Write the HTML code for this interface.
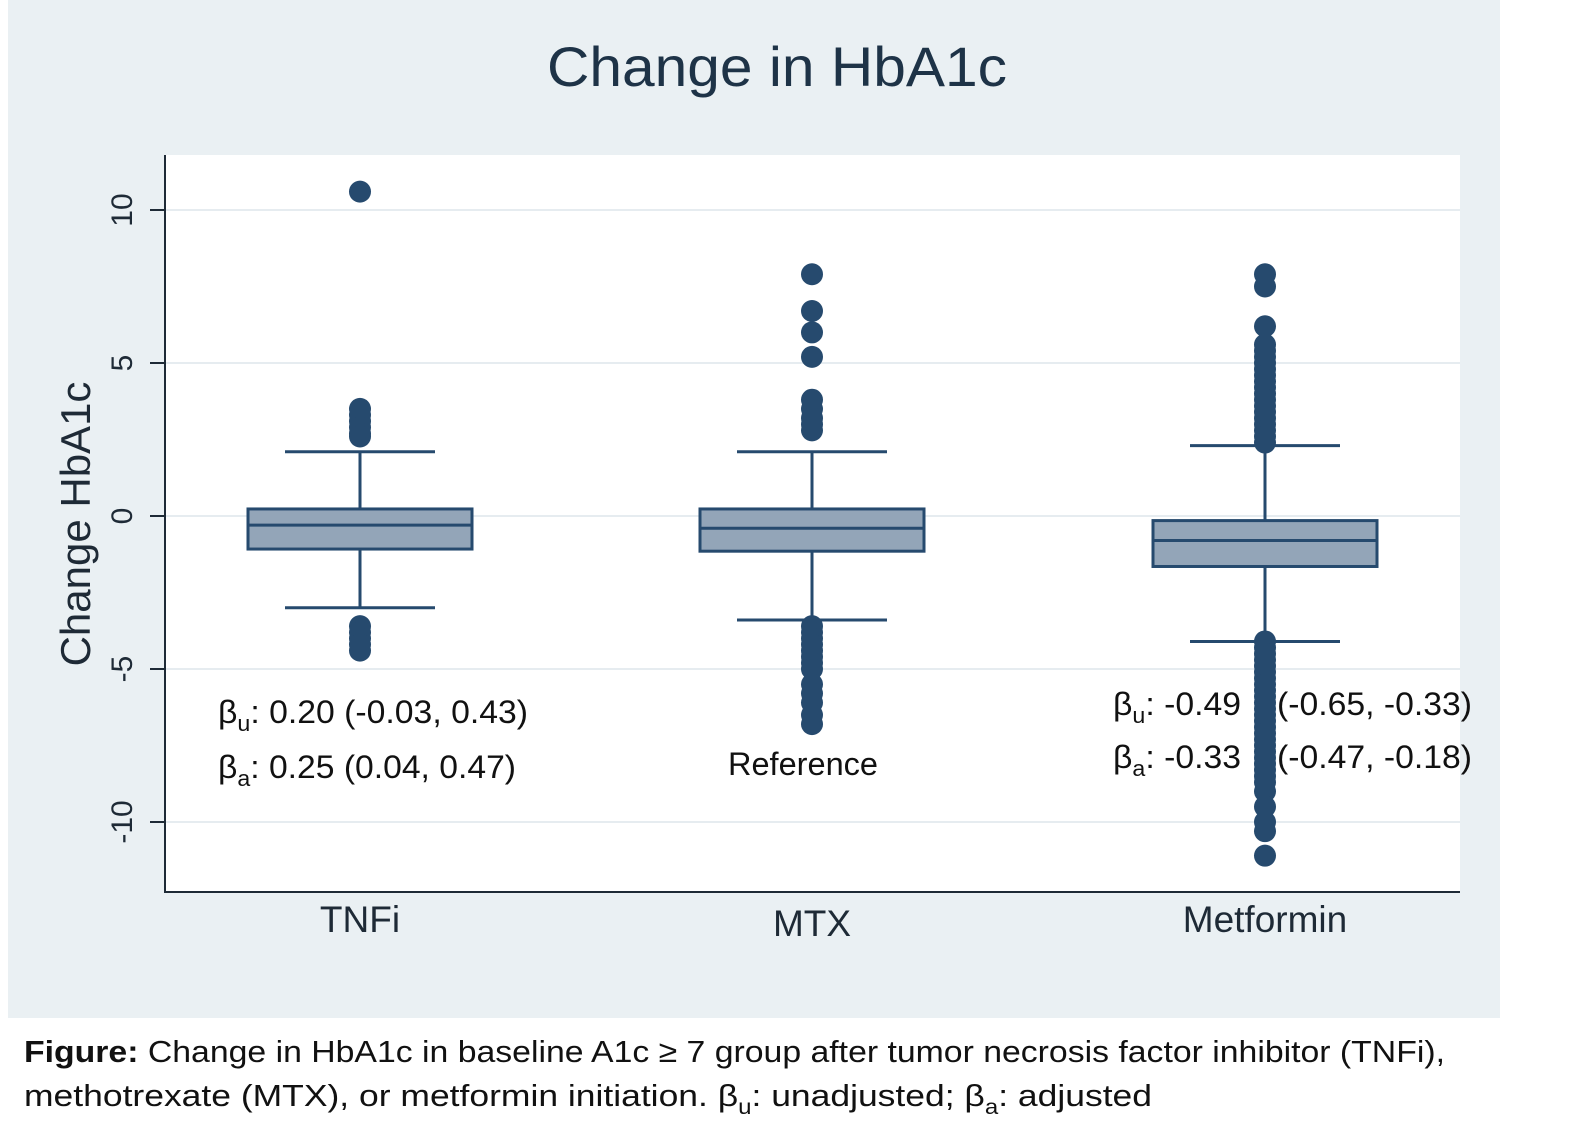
<!DOCTYPE html>
<html><head><meta charset="utf-8">
<style>
html,body{margin:0;padding:0;background:#fff;}
body{width:1575px;height:1145px;position:relative;overflow:hidden;font-family:"Liberation Sans",sans-serif;}
svg{position:absolute;left:0;top:0;}
</style></head>
<body>
<svg id="chart" width="1575" height="1145" xmlns="http://www.w3.org/2000/svg">
<rect x="8" y="0" width="1492" height="1018" fill="#eaf0f3"/>
<rect x="165" y="155" width="1295" height="737" fill="#ffffff"/>
<g id="grid"></g>
<g id="marks"></g>
<line x1="165" y1="155" x2="165" y2="893" stroke="#1e2a36" stroke-width="2"/>
<line x1="164" y1="892" x2="1460" y2="892" stroke="#1e2a36" stroke-width="2"/>
<g id="ticks"></g>
<text x="547" y="86" textLength="460" lengthAdjust="spacingAndGlyphs" font-size="56" fill="#1e3347">Change in HbA1c</text>
<text transform="translate(90,524) rotate(-90)" text-anchor="middle" font-size="42" fill="#1e2a36">Change HbA1c</text>
<g font-size="32" fill="#111">
<text x="218" y="723" textLength="310" lengthAdjust="spacingAndGlyphs">β<tspan font-size="22" dy="8">u</tspan><tspan dy="-8">: 0.20 (-0.03, 0.43)</tspan></text>
<text x="218" y="778" textLength="298" lengthAdjust="spacingAndGlyphs">β<tspan font-size="22" dy="8">a</tspan><tspan dy="-8">: 0.25 (0.04, 0.47)</tspan></text>
</g>
<text x="728" y="775" textLength="150" lengthAdjust="spacingAndGlyphs" font-size="32" fill="#111">Reference</text>
<g font-size="32" fill="#111">
<text x="1113" y="715" textLength="128" lengthAdjust="spacingAndGlyphs">β<tspan font-size="22" dy="8">u</tspan><tspan dy="-8">: -0.49</tspan></text>
<text x="1113" y="768" textLength="128" lengthAdjust="spacingAndGlyphs">β<tspan font-size="22" dy="8">a</tspan><tspan dy="-8">: -0.33</tspan></text>
<text x="1277" y="715" textLength="195" lengthAdjust="spacingAndGlyphs">(-0.65, -0.33)</text>
<text x="1277" y="768" textLength="195" lengthAdjust="spacingAndGlyphs">(-0.47, -0.18)</text>
</g>
<g font-size="31" fill="#111">
<text x="24" y="1062" textLength="1421" lengthAdjust="spacingAndGlyphs"><tspan font-weight="bold">Figure:</tspan> Change in HbA1c in baseline A1c ≥ 7 group after tumor necrosis factor inhibitor (TNFi),</text>
<text x="24" y="1106" textLength="1128" lengthAdjust="spacingAndGlyphs">methotrexate (MTX), or metformin initiation. β<tspan font-size="21" dy="8">u</tspan><tspan dy="-8">:  unadjusted; β</tspan><tspan font-size="21" dy="8">a</tspan><tspan dy="-8">:  adjusted</tspan></text>
</g>
</svg>
<script>
const categories = ["TNFi", "MTX", "Metformin"];
const q1Values = [-1.08, -1.15, -1.65];
const medianValues = [-0.3, -0.4, -0.8];
const q3Values = [0.23, 0.23, -0.15];
const lowerWhisker = [-3.0, -3.4, -4.1];
const upperWhisker = [2.1, 2.1, 2.3];
const tnfiOutliers = [10.6, 3.5, 3.3, 3.1, 2.9, 2.7, 2.6, -3.6, -3.8, -4.0, -4.2, -4.4];
const mtxOutliers = [7.9, 6.7, 6.0, 5.2, 3.8, 3.5, 3.2, 3.0, 2.8, -3.6, -3.8, -4.0, -4.2, -4.4, -4.6, -4.8, -5.0, -5.5, -5.8, -6.1, -6.5, -6.8];
const metforminOutliers = [7.9, 7.5, 6.2, 5.6, 5.4, 5.2, 5.0, 4.8, 4.6, 4.4, 4.2, 4.0, 3.8, 3.6, 3.4, 3.2, 3.0, 2.8, 2.6, 2.4,
  -4.1, -4.3, -4.5, -4.7, -4.9, -5.1, -5.3, -5.5, -5.7, -5.9, -6.1, -6.3, -6.5, -6.7, -6.9, -7.1, -7.3, -7.5, -7.7, -7.9, -8.1, -8.3, -8.5, -8.7, -9.0, -9.5, -10.0, -10.3, -11.1];
const outliers = [tnfiOutliers, mtxOutliers, metforminOutliers];
const yTicks = [10, 5, 0, -5, -10];
const yTickLabels = ["10", "5", "0", "-5", "-10"];

const NS = "http://www.w3.org/2000/svg";
function yScale(v){ return 516 - v * 30.6; }
function xScale(i){ return [360, 812, 1265][i]; }
function mk(tag, attrs, parent){
  const e = document.createElementNS(NS, tag);
  for (const k in attrs) e.setAttribute(k, attrs[k]);
  parent.appendChild(e);
  return e;
}
const grid = document.getElementById('grid');
const ticks = document.getElementById('ticks');
const marks = document.getElementById('marks');
const col = "#264a6e";

yTicks.forEach((t, i) => {
  const y = yScale(t);
  const g = mk('line', {x1:166, x2:1460, y1:y, y2:y, stroke:'#e6ecf0', 'stroke-width':2}, grid);
  
  
  const tk = mk('line', {x1:150, x2:165, y1:y, y2:y, stroke:'#1e2a36', 'stroke-width':2}, ticks);
  
  
  const lb = mk('text', {transform:`translate(132,${y}) rotate(-90)`, 'text-anchor':'middle', 'font-size':30, fill:'#1e2a36'}, ticks);
  lb.textContent = yTickLabels[i];
  
  
});

categories.forEach((c, i) => {
  const cx = xScale(i);
  const g = mk('g', {}, marks);
  
  
  mk('line', {x1:cx, x2:cx, y1:yScale(upperWhisker[i]), y2:yScale(q3Values[i]), stroke:col, 'stroke-width':3}, g);
  mk('line', {x1:cx, x2:cx, y1:yScale(q1Values[i]), y2:yScale(lowerWhisker[i]), stroke:col, 'stroke-width':3}, g);
  mk('line', {x1:cx-75, x2:cx+75, y1:yScale(upperWhisker[i]), y2:yScale(upperWhisker[i]), stroke:col, 'stroke-width':3}, g);
  mk('line', {x1:cx-75, x2:cx+75, y1:yScale(lowerWhisker[i]), y2:yScale(lowerWhisker[i]), stroke:col, 'stroke-width':3}, g);
  mk('rect', {x:cx-112, width:224, y:yScale(q3Values[i]), height:yScale(q1Values[i]) - yScale(q3Values[i]), fill:'#93a5b8', stroke:col, 'stroke-width':3}, g);
  mk('line', {x1:cx-112, x2:cx+112, y1:yScale(medianValues[i]), y2:yScale(medianValues[i]), stroke:col, 'stroke-width':3}, g);
  outliers[i].forEach(v => {
    const p = mk('circle', {cx:cx, cy:yScale(v), r:11, fill:col}, marks);
    
    
  });
  const lb = mk('text', {x:cx, y:i === 1 ? 936 : 932, 'text-anchor':'middle', 'font-size':37, fill:'#1e2a36'}, ticks);
  lb.textContent = c;
  
  
});
</script>
</body></html>
